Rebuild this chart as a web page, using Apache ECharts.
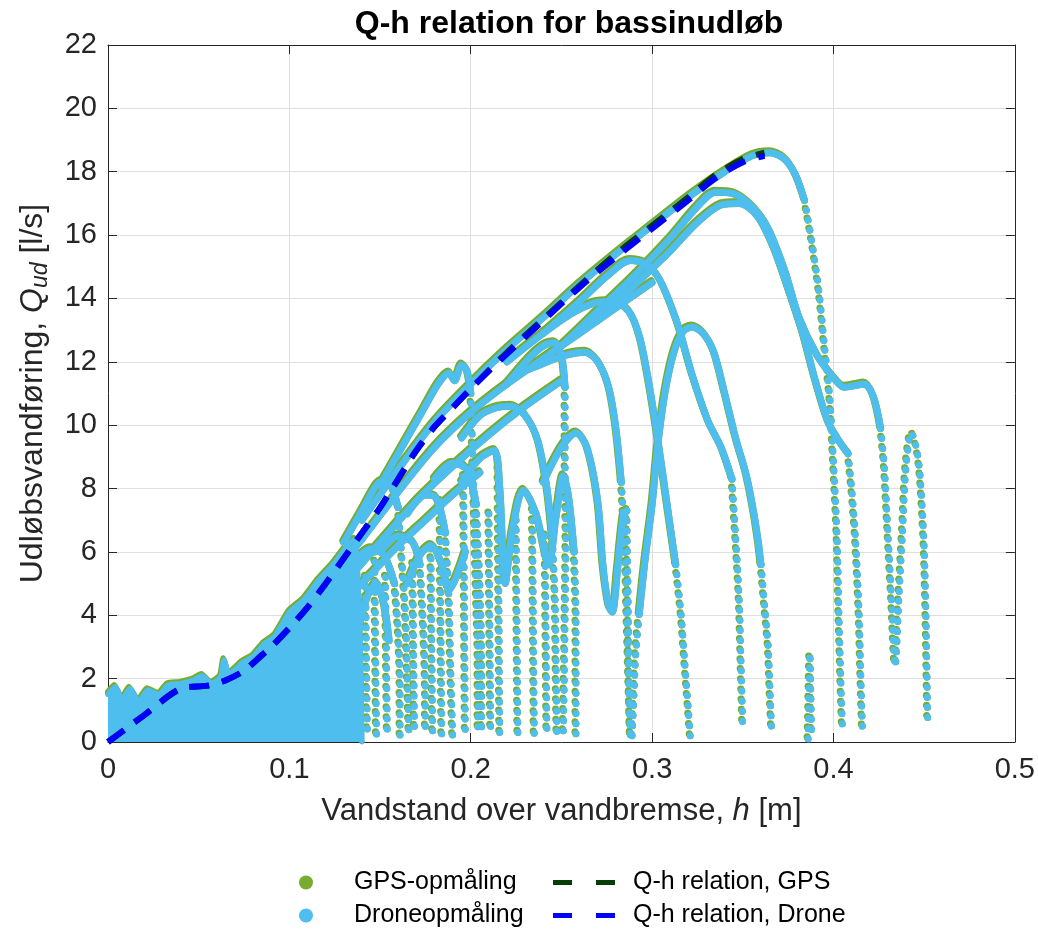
<!DOCTYPE html>
<html>
<head>
<meta charset="utf-8">
<script src="https://cdn.jsdelivr.net/npm/echarts@6/dist/echarts.min.js"></script>
<style>html,body{margin:0;padding:0;background:#fff}#c{width:1038px;height:929px}</style>
</head>
<body>
<div id="c"></div>
<script>
// ---------- data (h [m], Q [l/s]) ----------
const xTicks = [0, 0.1, 0.2, 0.3, 0.4, 0.5];
const yTicks = [0, 2, 4, 6, 8, 10, 12, 14, 16, 18, 20, 22];

const qhDrone = [[0,0],[0.02,0.85],[0.04,1.68],[0.055,1.78],[0.065,1.95],[0.075,2.25],[0.085,2.75],[0.09,3.0],[0.1,3.6],[0.11,4.25],[0.12,5.0],[0.13,5.8],[0.14,6.6],[0.15,7.4],[0.16,8.3],[0.17,9.2],[0.18,9.95],[0.19,10.55],[0.2,11.15],[0.22,12.25],[0.24,13.3],[0.26,14.35],[0.28,15.3],[0.3,16.2],[0.32,17.1],[0.335,17.8],[0.35,18.3],[0.362,18.5]];
const qhGps   = [[0,0],[0.02,0.85],[0.04,1.68],[0.055,1.78],[0.065,1.95],[0.075,2.25],[0.085,2.75],[0.09,3.0],[0.1,3.6],[0.11,4.25],[0.12,5.0],[0.13,5.8],[0.14,6.6],[0.15,7.4],[0.16,8.3],[0.17,9.2],[0.18,9.95],[0.19,10.55],[0.2,11.15],[0.22,12.3],[0.24,13.35],[0.26,14.4],[0.28,15.4],[0.3,16.3],[0.32,17.2],[0.335,17.9],[0.35,18.4],[0.362,18.6]];

// dense low-flow cloud (upper edge)
const blobEdge = [[0,1.5],[0.004,1.75],[0.008,1.35],[0.012,1.7],[0.017,1.3],[0.022,1.65],[0.028,1.5],[0.033,1.8],[0.04,1.85],[0.047,1.95],[0.052,2.1],[0.057,1.85],[0.062,2.05],[0.064,2.6],[0.067,2.15],[0.074,2.5],[0.08,2.7],[0.086,3.1],[0.092,3.35],[0.1,4.1],[0.108,4.5],[0.116,5.1],[0.124,5.6],[0.132,6.2],[0.136,6.4],[0.139,3.5],[0.14,0]];

// ridge band
const band1 = [[0.1,3.9],[0.12,5.0],[0.14,6.4],[0.16,7.9],[0.18,9.3],[0.2,10.4],[0.22,11.3],[0.24,12.1],[0.26,12.9],[0.28,13.7],[0.3,14.5]];
const band2 = [[0.11,3.9],[0.13,5.0],[0.15,6.3],[0.17,7.6],[0.19,8.7],[0.21,9.7],[0.23,10.6],[0.25,11.4]];
const band3 = [[0.13,4.4],[0.145,5.3],[0.16,6.2],[0.175,7.0],[0.19,7.8],[0.205,8.5]];

// events: dense part + sparse (dotted) part
const evA = [[0.14,7.0],[0.16,8.6],[0.18,10.1],[0.2,11.3],[0.22,12.4],[0.24,13.4],[0.26,14.45],[0.28,15.4],[0.3,16.3],[0.32,17.2],[0.34,18.0],[0.355,18.5],[0.365,18.6],[0.373,18.4],[0.379,17.9],[0.384,17.1]];
const evA_drop = [[0.384,17.1],[0.388,15.8],[0.392,14.2],[0.395,12.5],[0.398,10.8],[0.4,8.8],[0.402,6.4],[0.403,4.0],[0.404,2.0],[0.405,0.3]];
const evB = [[0.25,12.5],[0.27,13.6],[0.29,14.7],[0.31,15.9],[0.325,16.9],[0.335,17.35],[0.345,17.3],[0.355,16.9],[0.364,16.2],[0.373,14.9],[0.381,13.4],[0.391,12.2],[0.4,11.5],[0.406,11.2],[0.412,11.25],[0.417,11.3],[0.422,10.9],[0.426,9.9]];
const evB_drop = [[0.426,9.9],[0.428,8.7],[0.43,6.6],[0.432,4.5],[0.434,2.4],[0.436,4.5],[0.438,6.6],[0.44,8.7],[0.443,9.75],[0.446,9.2],[0.448,8.2],[0.45,6.1],[0.451,3.9],[0.452,0.5]];
const evC = [[0.27,13.3],[0.29,14.4],[0.31,15.5],[0.325,16.4],[0.338,16.95],[0.348,17.0],[0.358,16.6],[0.367,15.6],[0.375,14.3],[0.383,12.9],[0.39,11.4],[0.397,10.1],[0.403,9.5],[0.408,9.1]];
const evC_drop = [[0.408,9.1],[0.41,8.0],[0.412,6.5],[0.414,4.2],[0.415,2.2],[0.416,0.3]];
const evD = [[0.22,12.0],[0.24,12.9],[0.255,13.5],[0.268,13.85],[0.278,13.9],[0.287,13.6],[0.293,12.8],[0.298,11.4],[0.303,9.6],[0.308,7.6],[0.313,5.6]];
const evD_drop = [[0.313,5.6],[0.316,4.0],[0.318,2.5],[0.32,1.0],[0.321,0.2]];
const evE_rise = [[0.289,0.2],[0.29,1.5],[0.291,2.8],[0.293,4.1]];
const evE = [[0.293,4.1],[0.296,5.7],[0.3,7.5],[0.303,9.3],[0.307,11.0],[0.312,12.3],[0.317,12.95],[0.322,13.1],[0.328,12.9],[0.334,12.3],[0.34,11.0],[0.346,9.6],[0.352,8.4],[0.357,6.9],[0.36,5.6]];
const evE_drop = [[0.36,5.6],[0.362,4.3],[0.364,3.0],[0.365,1.6],[0.366,0.2]];
const evF = [[0.24,12.9],[0.26,13.9],[0.275,14.7],[0.288,15.2],[0.296,15.1],[0.304,14.6],[0.314,13.2],[0.322,11.6],[0.331,10.1],[0.338,9.3],[0.344,8.3]];
const evF_drop = [[0.344,8.3],[0.346,6.5],[0.348,4.5],[0.349,2.5],[0.35,0.4]];
const evG = [[0.15,8.1],[0.16,9.1],[0.173,10.4],[0.182,11.3],[0.188,11.65],[0.191,11.4],[0.195,11.9],[0.198,11.7],[0.2,11.0]];
const evG_drop = [[0.2,11.0],[0.201,9.2],[0.202,7.0],[0.203,4.8],[0.204,2.5],[0.204,0.2]];
const evH = [[0.13,6.3],[0.14,7.3],[0.148,8.1],[0.152,8.25],[0.156,8.1],[0.16,7.4]];
const evH_drop = [[0.16,7.4],[0.162,5.8],[0.164,4.0],[0.165,2.2],[0.166,0.2]];
const evI = [[0.225,11.6],[0.24,11.95],[0.252,12.2],[0.263,12.3],[0.27,12.0],[0.276,11.2],[0.28,9.9],[0.283,8.2]];
const evI_drop = [[0.283,8.2],[0.285,6.2],[0.286,4.2],[0.287,2.2],[0.288,0.2]];
const evJ = [[0.22,11.3],[0.232,12.1],[0.24,12.5],[0.246,12.6],[0.25,12.2],[0.252,11.2]];
const evJ_drop = [[0.252,11.2],[0.252,9.0],[0.2525,6.5],[0.252,4.0],[0.2515,1.8],[0.251,0.2]];
const evK = [[0.195,9.6],[0.205,10.3],[0.214,10.55],[0.222,10.6],[0.23,10.3],[0.237,9.5],[0.242,8.0],[0.245,6.4]];
const evK_drop = [[0.245,6.4],[0.2465,4.5],[0.247,2.5],[0.2475,0.2]];
const evL = [[0.195,8.2],[0.205,8.95],[0.213,9.2],[0.216,8.0],[0.219,5.0],[0.223,6.7],[0.229,7.95],[0.236,7.2],[0.243,5.6],[0.247,7.1],[0.251,8.4],[0.254,7.7],[0.257,6.0]];
const evL_drop = [[0.257,6.0],[0.258,4.0],[0.258,2.0],[0.258,0.2]];
const evN = [[0.24,8.2],[0.25,9.3],[0.258,9.75],[0.264,9.3],[0.27,7.6],[0.273,5.5],[0.276,4.3],[0.278,4.1],[0.281,5.5],[0.284,7.1],[0.286,7.3]];
const evN_drop = [[0.286,7.3],[0.2865,5.5],[0.287,3.5],[0.2875,1.5],[0.288,0.2]];
const evQ1 = [[0.125,4.6],[0.135,5.6],[0.145,6.1],[0.152,5.9],[0.158,5.0]];
const evQ1_drop = [[0.158,5.0],[0.16,3.5],[0.161,1.8],[0.161,0.2]];
const evQ2 = [[0.15,6.0],[0.16,6.5],[0.168,6.3],[0.172,5.6]];
const evQ2_drop = [[0.172,5.6],[0.174,3.5],[0.175,1.5],[0.175,0.2]];
const evQ3 = [[0.165,7.2],[0.175,7.8],[0.181,7.7],[0.186,6.6]];
const evQ3_drop = [[0.186,6.6],[0.188,4.5],[0.189,2.2],[0.19,0.2]];
const evQ4 = [[0.18,8.3],[0.19,8.8],[0.198,8.6],[0.203,7.5]];
const evQ4_drop = [[0.203,7.5],[0.205,5.0],[0.206,2.5],[0.206,0.2]];
const evS1 = [[0.165,5.0],[0.172,5.9],[0.178,6.2],[0.184,5.6],[0.188,4.8],[0.192,5.2],[0.197,6.0]];
const evS2 = [[0.138,3.5],[0.143,4.6],[0.148,5.0],[0.152,4.4],[0.155,3.2]];
const stream1 = [[0.147,6.0],[0.1475,3.0],[0.148,0.2]];
const stream2 = [[0.183,7.6],[0.1835,3.8],[0.184,0.2]];
const stream3 = [[0.196,8.7],[0.1965,4.3],[0.197,0.2]];
const stream4 = [[0.225,7.0],[0.2255,3.6],[0.226,0.2]];
const stream5 = [[0.234,7.3],[0.2345,3.6],[0.235,0.2]];
const stream6 = [[0.153,5.2],[0.1535,2.6],[0.154,0.2]];
const stream7 = [[0.168,5.6],[0.1685,2.8],[0.169,0.2]];
const stream8 = [[0.178,6.1],[0.1785,3.0],[0.179,0.2]];
const stream9 = [[0.21,7.2],[0.2105,3.6],[0.211,0.2]];
const stream10 = [[0.215,8.6],[0.2155,4.3],[0.216,0.2]];
const stream11 = [[0.241,6.5],[0.2415,3.2],[0.242,0.2]];
const stream12 = [[0.142,5.2],[0.1425,2.6],[0.143,0.2]];
const spike = [[0.386,0.1],[0.3865,1.5],[0.387,2.8],[0.3875,1.5],[0.388,0.1]];

// ---------- build ----------
const GREEN = '#77AC30', BLUE = '#4DBEEE', DGREEN = '#053d05', DBLUE = '#0000FF';
const FONT = 'Liberation Sans, Arial, Helvetica, sans-serif';
const solidTraces = [band1, band2, band3, evA, evB, evC, evD, evE, evF, evG, evH, evI, evJ, evK, evL, evN, evQ1, evQ2, evQ3, evQ4, evS1, evS2];
const dottedTraces = [evA_drop, evB_drop, evC_drop, evD_drop, evE_rise, evE_drop, evF_drop, evG_drop, evH_drop, evI_drop, evJ_drop, evK_drop, evL_drop, evN_drop, evQ1_drop, evQ2_drop, evQ3_drop, evQ4_drop, stream1, stream2, stream3, stream4, stream5, stream6, stream7, stream8, stream9, stream10, stream11, stream12, spike];

const series = [];
function mk(name, color, data, dotted, z, shadow) {
  const ls = {color: color, width: 7, type: dotted ? [0.1, 10] : 'solid', cap: 'round', join: 'round'};
  if (shadow) { ls.shadowColor = color; ls.shadowOffsetY = -2; ls.shadowOffsetX = -1; ls.shadowBlur = 0; }
  return {type: 'line', name: name, data: data, smooth: 0.3, symbol: 'none', showSymbol: false,
          itemStyle: {color: color}, lineStyle: ls, z: z, silent: true};
}
const blobG = mk('GPS-opmåling', GREEN, blobEdge, false, 2, true); blobG.lineStyle.width = 5; blobG.smooth = 0.2;
const blobB = mk('Droneopmåling', BLUE, blobEdge, false, 3, false); blobB.lineStyle.width = 5; blobB.smooth = 0.2;
blobB.areaStyle = {color: BLUE, opacity: 1};
series.push(blobG);
solidTraces.forEach(d => series.push(mk('GPS-opmåling', GREEN, d, false, 2, true)));
dottedTraces.forEach(d => series.push(mk('GPS-opmåling', GREEN, d, true, 2, true)));
series.push(blobB);
solidTraces.forEach(d => series.push(mk('Droneopmåling', BLUE, d, false, 3, false)));
dottedTraces.forEach(d => series.push(mk('Droneopmåling', BLUE, d, true, 3, false)));
series.push({type: 'line', name: 'Q-h relation, GPS', data: qhGps, smooth: 0.3, symbol: 'none', z: 5, silent: true,
  itemStyle: {color: DGREEN}, lineStyle: {color: DGREEN, width: 6, type: [20, 13]}});
series.push({type: 'line', name: 'Q-h relation, Drone', data: qhDrone, smooth: 0.3, symbol: 'none', z: 6, silent: true,
  itemStyle: {color: DBLUE}, lineStyle: {color: DBLUE, width: 6, type: [20, 13]}});

const axisCol = '#262626';
const legText = {fontFamily: FONT, fontSize: 25, color: '#000'};
const dashIcon = 'path://M0,0H19V5H0ZM43,0H62V5H43Z';
function leg(name, icon, left, top, w, h, pad) {
  return {left: left, top: top, itemWidth: w, itemHeight: h, selectedMode: false,
          data: [{name: name, icon: icon}],
          textStyle: Object.assign({}, legText, pad ? {padding: [0, 0, 0, pad]} : {})};
}
const chart = echarts.init(document.getElementById('c'), null, {renderer: 'canvas'});
chart.setOption({
  animation: false,
  backgroundColor: '#fff',
  title: {text: 'Q-h relation for bassinudløb', left: 564, top: 3, textAlign: 'center',
    textStyle: {fontFamily: FONT, fontSize: 32, fontWeight: 'bold', color: '#000'}},
  grid: {left: 108, right: 21, top: 45, bottom: 187, containLabel: false},
  legend: [
    leg('GPS-opmåling', 'circle', 294, 865, 86, 14, 0),
    leg('Droneopmåling', 'circle', 294, 898, 86, 14, 0),
    leg('Q-h relation, GPS', dashIcon, 548, 865, 62, 5, 13),
    leg('Q-h relation, Drone', dashIcon, 548, 898, 62, 5, 13)
  ],
  xAxis: [
    {type: 'value', min: xTicks[0], max: xTicks[xTicks.length - 1], interval: 0.1, position: 'bottom',
     name: '{n|Vandstand over vandbremse, }{i|h}{n| [m]}', nameLocation: 'middle', nameGap: 54,
     nameTextStyle: {rich: {n: {fontFamily: FONT, fontSize: 31, color: axisCol}, i: {fontFamily: FONT, fontSize: 31, fontStyle: 'italic', color: axisCol}}},
     axisLine: {show: true, lineStyle: {color: axisCol, width: 1}},
     axisTick: {show: true, inside: true, length: 9, lineStyle: {color: axisCol}},
     axisLabel: {fontFamily: FONT, fontSize: 29, color: axisCol, margin: 13, formatter: v => String(+v.toFixed(1))},
     splitLine: {show: true, lineStyle: {color: '#dfdfdf', width: 1}}},
    {type: 'value', min: xTicks[0], max: xTicks[xTicks.length - 1], interval: 0.1, position: 'top',
     axisLine: {show: true, onZero: false, lineStyle: {color: axisCol, width: 1}},
     axisTick: {show: true, inside: true, length: 9, lineStyle: {color: axisCol}},
     axisLabel: {show: false}, splitLine: {show: false}}
  ],
  yAxis: [
    {type: 'value', min: yTicks[0], max: yTicks[yTicks.length - 1], interval: 2, position: 'left',
     name: '{n|Udløbsvandføring, }{i|Q}{s|ud}{n| [l/s]}', nameLocation: 'middle', nameGap: 56, nameRotate: 90,
     nameTextStyle: {rich: {n: {fontFamily: FONT, fontSize: 32, color: axisCol},
                            i: {fontFamily: FONT, fontSize: 32, fontStyle: 'italic', color: axisCol},
                            s: {fontFamily: FONT, fontSize: 23, fontStyle: 'italic', color: axisCol, verticalAlign: 'bottom', padding: [14, 0, 0, 0]}}},
     axisLine: {show: true, lineStyle: {color: axisCol, width: 1}},
     axisTick: {show: true, inside: true, length: 9, lineStyle: {color: axisCol}},
     axisLabel: {fontFamily: FONT, fontSize: 29, color: axisCol, margin: 11},
     splitLine: {show: true, lineStyle: {color: '#dfdfdf', width: 1}}},
    {type: 'value', min: yTicks[0], max: yTicks[yTicks.length - 1], interval: 2, position: 'right',
     axisLine: {show: true, onZero: false, lineStyle: {color: axisCol, width: 1}},
     axisTick: {show: true, inside: true, length: 9, lineStyle: {color: axisCol}},
     axisLabel: {show: false}, splitLine: {show: false}}
  ],
  series: series
});
</script>
</body>
</html>
